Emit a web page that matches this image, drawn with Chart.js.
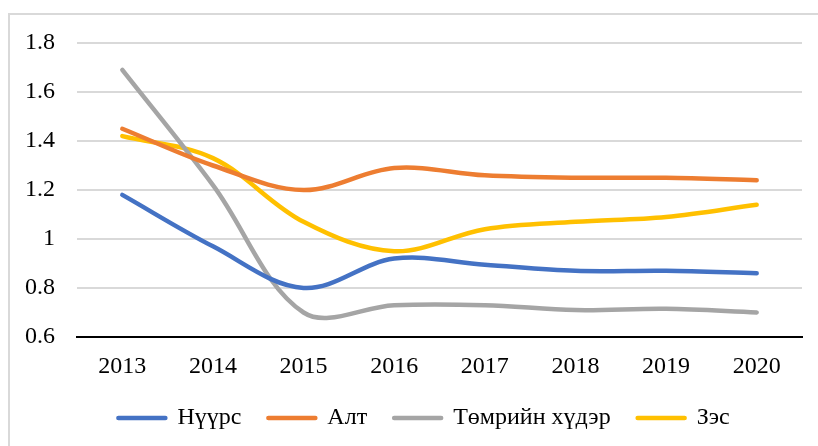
<!DOCTYPE html>
<html><head><meta charset="utf-8">
<script src="https://cdn.jsdelivr.net/npm/chart.js@4.4.0/dist/chart.umd.min.js"></script>
<style>
html,body{margin:0;padding:0;background:#fff;overflow:hidden;width:818px;height:446px}
#frame{position:absolute;left:8px;top:13px;border-left:2px solid #d9d9d9;border-top:2px solid #d9d9d9;width:828px;height:440px;}
canvas{display:block}
</style></head><body>
<div id="frame"><canvas id="c" width="828" height="425"></canvas></div>
<script>
const years = ['2013','2014','2015','2016','2017','2018','2019','2020'];
const seriesNames = ['Нүүрс','Алт','Төмрийн хүдэр','Зэс'];
const coal    = [1.18, 0.97, 0.80, 0.92, 0.895, 0.87, 0.87, 0.86];
const gold    = [1.45, 1.30, 1.20, 1.29, 1.26, 1.25, 1.25, 1.24];
const ironOre = [1.69, 1.22, 0.70, 0.73, 0.73, 0.71, 0.715, 0.70];
const copper  = [1.42, 1.33, 1.07, 0.95, 1.04, 1.07, 1.09, 1.14];
const yMin = 0.6, yMax = 1.8, yStep = 0.2;
const colors = ['#4472C4','#ED7D31','#A5A5A5','#FFC000'];

const FONT = "'Liberation Serif','Times New Roman',serif";
const FS = 24;
const values = [coal, gold, ironOre, copper];

const datasets = values.map((v, i) => ({
  label: seriesNames[i],
  data: v,
  yAxisID: 'y',
  borderColor: colors[i],
  backgroundColor: colors[i],
  borderWidth: 4.5,
  borderCapStyle: 'round',
  borderJoinStyle: 'round',
  pointRadius: 0,
  pointHoverRadius: 0,
  tension: 0.35,
  fill: false
}));

new Chart(document.getElementById('c'), {
  type: 'line',
  data: { labels: years, datasets },
  options: {
    responsive: false,
    animation: false,
    layout: { padding: { left: 0, right: 0, top: 28, bottom: 0 } },
    plugins: {
      tooltip: { enabled: false },
      legend: {
        position: 'bottom',
        labels: {
          boxWidth: 47,
          boxHeight: 0,
          padding: 27,
          color: '#000',
          font: { family: FONT, size: FS }
        }
      }
    },
    scales: {
      x: {
        offset: true,
        grid: { display: false, drawTicks: false },
        border: { display: true, color: '#000', width: 2 },
        ticks: { color: '#000', padding: 15, font: { family: FONT, size: FS }, maxRotation: 0 },
        afterFit: s => { s.height = 42; s.paddingLeft = 0; s.paddingRight = 0; }
      },
      y: {
        position: 'left',
        min: yMin, max: yMax,
        ticks: {
          stepSize: yStep, color: '#000', padding: 22, font: { family: FONT, size: FS },
          callback: v => String(+(+v).toFixed(2))
        },
        grid: { color: '#d9d9d9', lineWidth: 2, drawTicks: false },
        border: { display: false },
        afterFit: s => { s.width = 67; s.paddingTop = 0; s.paddingBottom = 0; }
      },
      spacer: {
        position: 'right',
        min: yMin, max: yMax,
        grid: { display: false, drawTicks: false },
        border: { display: false },
        ticks: { display: false },
        afterFit: s => { s.width = 36; s.paddingTop = 0; s.paddingBottom = 0; }
      }
    }
  }
});
</script>
</body></html>
